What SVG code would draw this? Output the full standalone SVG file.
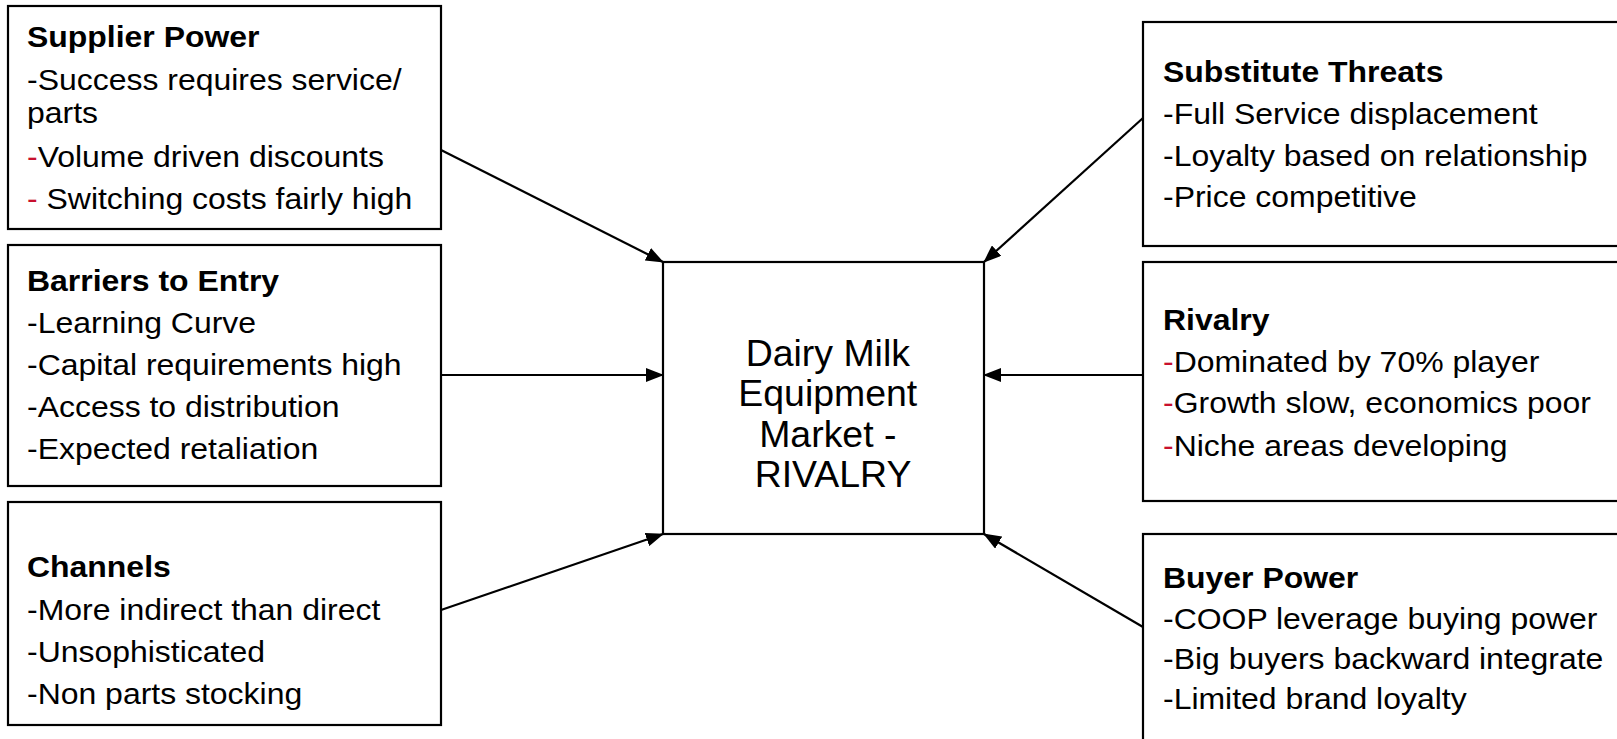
<svg xmlns="http://www.w3.org/2000/svg" width="1617" height="739" viewBox="0 0 1617 739">
<style>
.box{fill:#fff;stroke:#000;stroke-width:2.2}
.t{font-family:"Liberation Sans",Arial,sans-serif;font-size:30px;fill:#000}
.c{font-family:"Liberation Sans",Arial,sans-serif;font-size:36px;fill:#000;text-anchor:middle}
.b{font-weight:bold}
.r{fill:#c8102e}
.con{stroke:#000;stroke-width:2.2;fill:none;marker-end:url(#ah)}
</style>
<defs>
<marker id="ah" markerWidth="18" markerHeight="14" refX="17" refY="7" orient="auto" markerUnits="userSpaceOnUse">
<path d="M0,0 L18,7 L0,14 z" fill="#000"/>
</marker>
</defs>
<rect width="1617" height="739" fill="#fff"/>
<g id="supplier">
<rect class="box" x="8" y="6" width="433" height="223"/>
<text class="t" transform="translate(27,0) scale(1.065,1)">
<tspan class="b" x="0" y="47">Supplier Power</tspan>
<tspan x="0" y="90">-Success requires service/</tspan>
<tspan x="0" y="123">parts</tspan>
<tspan x="0" y="167"><tspan class="r">-</tspan>Volume driven discounts</tspan>
<tspan x="0" y="209"><tspan class="r">-</tspan> Switching costs fairly high</tspan>
</text>
</g>
<g id="barriers">
<rect class="box" x="8" y="245" width="433" height="241"/>
<text class="t" transform="translate(27,0) scale(1.065,1)">
<tspan class="b" x="0" y="291">Barriers to Entry</tspan>
<tspan x="0" y="333">-Learning Curve</tspan>
<tspan x="0" y="375">-Capital requirements high</tspan>
<tspan x="0" y="417">-Access to distribution</tspan>
<tspan x="0" y="459">-Expected retaliation</tspan>
</text>
</g>
<g id="channels">
<rect class="box" x="8" y="502" width="433" height="223"/>
<text class="t" transform="translate(27,0) scale(1.065,1)">
<tspan class="b" x="0" y="577">Channels</tspan>
<tspan x="0" y="620">-More indirect than direct</tspan>
<tspan x="0" y="662">-Unsophisticated</tspan>
<tspan x="0" y="704">-Non parts stocking</tspan>
</text>
</g>
<g id="center">
<rect class="box" x="663" y="262" width="321" height="272"/>
<text class="c" transform="translate(833,0) scale(1.04,1)">
<tspan x="0" y="366">Dairy Milk</tspan>
<tspan x="0" y="406">Equipment</tspan>
<tspan x="0" y="447">Market -</tspan>
<tspan x="0" y="487">RIVALRY</tspan>
</text>
</g>
<g id="substitute">
<rect class="box" x="1143" y="22" width="490" height="224"/>
<text class="t" transform="translate(1163,0) scale(1.065,1)">
<tspan class="b" x="0" y="82">Substitute Threats</tspan>
<tspan x="0" y="124">-Full Service displacement</tspan>
<tspan x="0" y="166">-Loyalty based on relationship</tspan>
<tspan x="0" y="207">-Price competitive</tspan>
</text>
</g>
<g id="rivalry">
<rect class="box" x="1143" y="262" width="490" height="239"/>
<text class="t" transform="translate(1163,0) scale(1.065,1)">
<tspan class="b" x="0" y="330">Rivalry</tspan>
<tspan x="0" y="372"><tspan class="r">-</tspan>Dominated by 70% player</tspan>
<tspan x="0" y="413"><tspan class="r">-</tspan>Growth slow, economics poor</tspan>
<tspan x="0" y="456"><tspan class="r">-</tspan>Niche areas developing</tspan>
</text>
</g>
<g id="buyer">
<rect class="box" x="1143" y="534" width="490" height="230"/>
<text class="t" transform="translate(1163,0) scale(1.065,1)">
<tspan class="b" x="0" y="588">Buyer Power</tspan>
<tspan x="0" y="629">-COOP leverage buying power</tspan>
<tspan x="0" y="669">-Big buyers backward integrate</tspan>
<tspan x="0" y="709">-Limited brand loyalty</tspan>
</text>
</g>
<g id="connectors">
<line class="con" x1="441" y1="150" x2="663" y2="262"/>
<line class="con" x1="441" y1="375" x2="663" y2="375"/>
<line class="con" x1="441" y1="610" x2="663" y2="534"/>
<line class="con" x1="1143" y1="118" x2="984" y2="262"/>
<line class="con" x1="1143" y1="375" x2="984" y2="375"/>
<line class="con" x1="1143" y1="627" x2="984" y2="534"/>
</g>
</svg>
